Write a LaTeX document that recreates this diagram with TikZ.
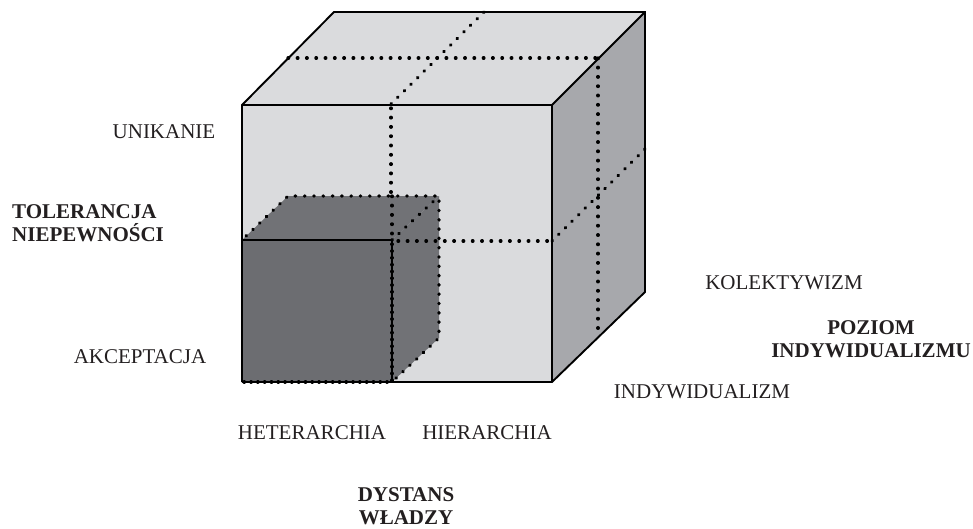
\documentclass[tikz,border=0pt]{standalone}
\usepackage{fontspec}
\setmainfont{Liberation Serif}
\definecolor{facelight}{HTML}{DADBDD}
\definecolor{faceright}{HTML}{A7A8AC}
\definecolor{facedark}{HTML}{6C6D71}
\definecolor{facedarktop}{HTML}{717276}
\definecolor{txt}{HTML}{231F20}
\begin{document}
\begin{tikzpicture}[x=1pt,y=-1pt,
  edge/.style={draw=black,line width=1.9pt,line join=miter},
  dots/.style={draw=black,line width=3.3pt,line cap=round,dash pattern=on 0.6pt off 8.7pt},
  densedots/.style={draw=black,line width=3.1pt,line cap=round,dash pattern=on 0.5pt off 6.3pt},
  lbl/.style={text=txt,font=\fontsize{21}{23}\selectfont,inner sep=0pt},
  blbl/.style={text=txt,font=\fontsize{21}{23}\selectfont\bfseries,inner sep=0pt}]
\useasboundingbox (0,0) rectangle (973,528);
% big cube faces
\fill[facelight] (242,105) -- (334,12) -- (645,12) -- (552,105) -- cycle;
\fill[faceright] (552,105) -- (645,12) -- (645,292) -- (552,382) -- cycle;
\fill[facelight] (242,105) rectangle (552,382);
% dotted split lines of big cube
\draw[dots] (288,58) -- (598,58);
\draw[dots] (391,104) -- (484,12);
\draw[dots] (598,58) -- (598,333);
\draw[dots] (552,241) -- (645,149);
\draw[dots] (391,108) -- (391,240);
% small dark cube
\fill[facedarktop] (242,240) -- (288,196) -- (439,196) -- (392,240) -- cycle;
\fill[facedarktop] (392,240) -- (439,196) -- (439,338) -- (392,382) -- cycle;
\fill[facedark] (242,240) rectangle (392,382);
\draw[dots] (246,236) -- (288,196) -- (439,196) -- (439,338) -- (392,382);
\draw[dots] (392,240) -- (439,196);
\draw[dots] (392,196) -- (392,240);
\draw[dots] (398,241) -- (552,241);
\draw[black,line width=1.6pt] (242,240) -- (392,240) -- (392,382) -- (242,382);
\draw[densedots] (392,244) -- (392,382);
\draw[densedots] (244,382) -- (392,382);
% big cube outline
\draw[edge] (242,382) -- (242,105) -- (334,12) -- (645,12) -- (645,292) -- (552,382) -- (392,382);
\draw[edge] (242,105) -- (552,105) -- (645,12);
\draw[edge] (552,105) -- (552,382);
% labels
\node[lbl] (unik) at (164,132) {UNIKANIE};
\node[blbl,align=left,anchor=west] (tol) at (12,223) {TOLERANCJA\\NIEPEWNOŚCI};
\node[lbl] (akc) at (140,357) {AKCEPTACJA};
\node[lbl] (kol) at (784,283) {KOLEKTYWIZM};
\node[blbl,align=center] (poz) at (871,339) {POZIOM\\INDYWIDUALIZMU};
\node[lbl] (ind) at (702,392) {INDYWIDUALIZM};
\node[lbl] (het) at (312,433) {HETERARCHIA};
\node[lbl] (hie) at (487,433) {HIERARCHIA};
\node[blbl,align=center] (dys) at (406,506) {DYSTANS\\WŁADZY};
\end{tikzpicture}
\end{document}
